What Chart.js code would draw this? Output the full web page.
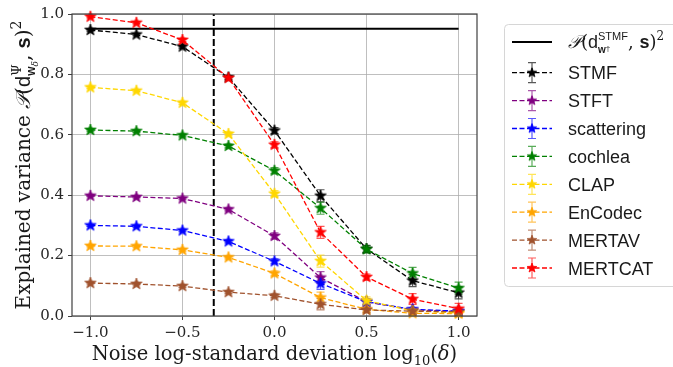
<!DOCTYPE html>
<html>
<head>
<meta charset="utf-8">
<script src="https://cdn.jsdelivr.net/npm/chart.js@4/dist/chart.umd.min.js"></script>
<style>
  body { margin: 0; background: #fff; }
</style>
</head>
<body>
<canvas id="c" width="673" height="367"></canvas>
<script>
// noise levels (log10 of delta)
const xVals = [-1, -0.75, -0.5, -0.25, 0, 0.25, 0.5, 0.75, 1];
const xTicks = [-1, -0.5, 0, 0.5, 1];
const yTicks = [0, 0.2, 0.4, 0.6, 0.8, 1.0];

// reference level and threshold
const refLevel = 0.951;
const refSpan = [-1, 1];
const threshold = -0.33;

const seriesNames = ["STMF", "STFT", "scattering", "cochlea", "CLAP", "EnCodec", "MERTAV", "MERTCAT"];

const stmf       = [0.947, 0.932, 0.892, 0.790, 0.614, 0.398, 0.222, 0.117, 0.077];
const stft       = [0.398, 0.394, 0.389, 0.353, 0.265, 0.127, 0.047, 0.020, 0.015];
const scattering = [0.300, 0.297, 0.283, 0.247, 0.181, 0.108, 0.047, 0.022, 0.016];
const cochlea    = [0.616, 0.612, 0.598, 0.563, 0.481, 0.357, 0.221, 0.141, 0.092];
const clap       = [0.757, 0.746, 0.706, 0.603, 0.405, 0.182, 0.051, 0.017, 0.010];
const encodec    = [0.232, 0.231, 0.219, 0.194, 0.141, 0.061, 0.022, 0.009, 0.008];
const mertav     = [0.109, 0.106, 0.099, 0.079, 0.067, 0.039, 0.020, 0.016, 0.014];
const mertcat    = [0.991, 0.971, 0.914, 0.788, 0.567, 0.277, 0.129, 0.056, 0.024];

// standard deviations
const stmfErr       = [0.004, 0.004, 0.005, 0.006, 0.010, 0.020, 0.012, 0.020, 0.020];
const stftErr       = [0.003, 0.003, 0.004, 0.005, 0.010, 0.020, 0.010, 0.005, 0.005];
const scatteringErr = [0.003, 0.003, 0.004, 0.005, 0.008, 0.020, 0.008, 0.005, 0.005];
const cochleaErr    = [0.004, 0.004, 0.005, 0.006, 0.010, 0.020, 0.012, 0.020, 0.020];
const clapErr       = [0.004, 0.004, 0.005, 0.006, 0.010, 0.020, 0.012, 0.006, 0.005];
const encodecErr    = [0.003, 0.003, 0.004, 0.005, 0.008, 0.018, 0.008, 0.005, 0.004];
const mertavErr     = [0.003, 0.003, 0.004, 0.005, 0.006, 0.019, 0.008, 0.005, 0.004];
const mertcatErr    = [0.004, 0.004, 0.005, 0.006, 0.010, 0.020, 0.010, 0.018, 0.018];

const seriesValues = [stmf, stft, scattering, cochlea, clap, encodec, mertav, mertcat];
const seriesErrors = [stmfErr, stftErr, scatteringErr, cochleaErr, clapErr, encodecErr, mertavErr, mertcatErr];
const seriesColors = ["#000000", "#800080", "#0000ff", "#008000", "#ffd700", "#ffa500", "#a0522d", "#ff0000"];

const SERIF = '"DejaVu Serif", serif';
const SANS = '"Liberation Sans", sans-serif';

function starImage(color, r) {
  const s = Math.ceil(r * 2 + 4);
  const c = document.createElement("canvas");
  c.width = c.height = s;
  const g = c.getContext("2d");
  g.translate(s / 2, s / 2);
  g.beginPath();
  for (let i = 0; i < 10; i++) {
    const a = -Math.PI / 2 + i * Math.PI / 5;
    const rad = i % 2 ? r * 0.42 : r;
    g.lineTo(Math.cos(a) * rad, Math.sin(a) * rad);
  }
  g.closePath();
  g.fillStyle = color;
  g.fill();
  g.lineWidth = 0.8;
  g.strokeStyle = color;
  g.stroke();
  return c;
}

// text runs with super/subscripts; keep = stack next run at same x
function runText(ctx, runs, x, y, draw) {
  let cx = x, pend = null;
  for (const r of runs) {
    ctx.font = r.f;
    if (draw) ctx.fillText(r.t, cx, y + (r.dy || 0));
    const w = ctx.measureText(r.t).width;
    if (r.keep) {
      pend = cx + w;
    } else {
      cx += w;
      if (r.end && pend !== null) { cx = Math.max(cx, pend); pend = null; }
    }
  }
  return cx - x;
}

const yTitle = [
  { t: "Explained variance ", f: "20px " + SERIF },
  { t: "\u{1D4AB}", f: "italic 20px " + SERIF },
  { t: "(", f: "20px " + SERIF },
  { t: "d", f: "20px " + SANS },
  { t: "\u03A8", f: "13px " + SERIF, dy: -9, keep: true },
  { t: "w", f: "bold 12px " + SANS, dy: 5 },
  { t: "\u03B4", f: "italic 9px " + SERIF, dy: 8, end: true },
  { t: ", ", f: "20px " + SERIF },
  { t: "s", f: "bold 20px " + SANS },
  { t: ")", f: "20px " + SERIF },
  { t: "2", f: "14px " + SERIF, dy: -9 }
];

const xTitle = [
  { t: "Noise log-standard deviation log", f: "19.5px " + SERIF },
  { t: "10", f: "13px " + SERIF, dy: 5 },
  { t: "(", f: "19.5px " + SERIF },
  { t: "\u03B4", f: "italic 19.5px " + SERIF },
  { t: ")", f: "19.5px " + SERIF }
];

const refLabel = [
  { t: "\u{1D4AB}", f: "italic 18px " + SERIF },
  { t: "(", f: "18px " + SERIF },
  { t: "d", f: "18px " + SANS },
  { t: "STMF", f: "11px " + SANS, dy: -8, keep: true },
  { t: "w", f: "bold 10px " + SANS, dy: 5 },
  { t: "\u2020", f: "8px " + SANS, dy: 3, end: true },
  { t: ", ", f: "18px " + SERIF },
  { t: "s", f: "bold 18px " + SANS },
  { t: ")", f: "18px " + SERIF },
  { t: "2", f: "12px " + SERIF, dy: -8 }
];

const errorBars = {
  id: "errorBars",
  beforeDatasetsDraw(chart) {
    const { ctx, scales: { x, y } } = chart;
    ctx.save();
    ctx.globalAlpha = 0.65;
    ctx.lineWidth = 1.2;
    seriesValues.forEach((vals, i) => {
      ctx.strokeStyle = seriesColors[i];
      vals.forEach((v, j) => {
        const px = x.getPixelForValue(xVals[j]);
        const y1 = y.getPixelForValue(v - seriesErrors[i][j]);
        const y2 = y.getPixelForValue(v + seriesErrors[i][j]);
        ctx.beginPath();
        ctx.moveTo(px, y1); ctx.lineTo(px, y2);
        ctx.moveTo(px - 4, y1); ctx.lineTo(px + 4, y1);
        ctx.moveTo(px - 4, y2); ctx.lineTo(px + 4, y2);
        ctx.stroke();
      });
    });
    ctx.restore();
  }
};

const decorations = {
  id: "decorations",
  afterDatasetsDraw(chart) {
    const { ctx, chartArea: a } = chart;
    ctx.save();
    ctx.strokeStyle = "#404040";
    ctx.lineWidth = 1.2;
    ctx.strokeRect(a.left, a.top, a.right - a.left, a.bottom - a.top);
    ctx.restore();
  },
  afterDraw(chart) {
    const { ctx, chartArea: a } = chart;
    ctx.save();
    ctx.fillStyle = "#1a1a1a";
    ctx.textBaseline = "alphabetic";

    // axis titles
    const xw = runText(ctx, xTitle, 0, 0, false);
    runText(ctx, xTitle, (a.left + a.right) / 2 - xw / 2, 360, true);

    ctx.save();
    ctx.translate(30, (a.top + a.bottom) / 2);
    ctx.rotate(-Math.PI / 2);
    const yw = runText(ctx, yTitle, 0, 0, false);
    runText(ctx, yTitle, -yw / 2, 0, true);
    ctx.restore();

    // legend box
    ctx.beginPath();
    ctx.roundRect(504.5, 24.5, 190, 262, 4);
    ctx.fillStyle = "rgba(255,255,255,0.8)";
    ctx.fill();
    ctx.strokeStyle = "#d6d6d6";
    ctx.lineWidth = 1;
    ctx.stroke();

    const lx0 = 512, lx1 = 552, lmid = 532, tx = 568;
    // reference line entry
    const ry = 42;
    ctx.strokeStyle = "#000";
    ctx.lineWidth = 2;
    ctx.beginPath(); ctx.moveTo(lx0, ry); ctx.lineTo(lx1, ry); ctx.stroke();
    ctx.fillStyle = "#1a1a1a";
    runText(ctx, refLabel, tx, ry + 6, true);

    seriesNames.forEach((name, i) => {
      const cy = 72.7 + i * 27.9;
      const col = seriesColors[i];
      ctx.strokeStyle = col;
      ctx.lineWidth = 1.3;
      ctx.setLineDash([5, 2.5]);
      ctx.beginPath(); ctx.moveTo(lx0, cy); ctx.lineTo(lx1, cy); ctx.stroke();
      ctx.setLineDash([]);
      ctx.globalAlpha = 0.65;
      ctx.lineWidth = 1.2;
      ctx.beginPath();
      ctx.moveTo(lmid, cy - 10); ctx.lineTo(lmid, cy + 10);
      ctx.moveTo(lmid - 4, cy - 10); ctx.lineTo(lmid + 4, cy - 10);
      ctx.moveTo(lmid - 4, cy + 10); ctx.lineTo(lmid + 4, cy + 10);
      ctx.stroke();
      ctx.globalAlpha = 1;
      const img = starImage(col, 5);
      ctx.drawImage(img, lmid - img.width / 2, cy - img.height / 2);
      ctx.fillStyle = "#1a1a1a";
      ctx.font = "18px " + SANS;
      ctx.fillText(name, tx, cy + 6.5);
    });
    ctx.restore();
  }
};

const datasets = [];
seriesNames.forEach((name, i) => {
  datasets.push({
    label: name,
    data: xVals.map((x, j) => ({ x: x, y: seriesValues[i][j] })),
    borderColor: seriesColors[i],
    backgroundColor: seriesColors[i],
    borderWidth: 1.3,
    borderDash: [5, 2.5],
    pointStyle: starImage(seriesColors[i], 6),
    pointRadius: 6,
    tension: 0,
    clip: 10,
    order: 20 - i
  });
});
datasets.push({
  label: "reference",
  data: refSpan.map(x => ({ x: x, y: refLevel })),
  borderColor: "#000",
  borderWidth: 2,
  pointRadius: 0,
  order: 30
});
datasets.push({
  label: "threshold",
  data: [{ x: threshold, y: 0 }, { x: threshold, y: 1 }],
  borderColor: "#000",
  borderWidth: 2,
  borderDash: [7, 3],
  pointRadius: 0,
  order: 31
});

const fmt = v => (v < 0 ? "\u2212" : "") + Math.abs(v).toFixed(1);
const gridColor = "rgba(170,170,170,0.75)";

new Chart(document.getElementById("c"), {
  type: "line",
  data: { datasets: datasets },
  options: {
    responsive: false,
    animation: false,
    events: [],
    layout: { padding: { left: 0, right: 196, top: 14, bottom: 0 } },
    plugins: { legend: { display: false }, tooltip: { enabled: false } },
    scales: {
      x: {
        type: "linear",
        min: -1.1,
        max: 1.1,
        afterBuildTicks: s => { s.ticks = xTicks.map(v => ({ value: v })); },
        afterFit: s => { s.height = 51; },
        ticks: { font: { family: "DejaVu Serif", size: 15 }, color: "#262626", padding: 4, callback: fmt, maxRotation: 0 },
        grid: { color: gridColor, lineWidth: 1, tickLength: 4, tickColor: "#404040" },
        border: { display: false }
      },
      y: {
        min: 0,
        max: 1,
        afterBuildTicks: s => { s.ticks = yTicks.map(v => ({ value: v })); },
        afterFit: s => { s.width = 72; },
        ticks: { font: { family: "DejaVu Serif", size: 15 }, color: "#262626", padding: 4, callback: fmt },
        grid: { color: gridColor, lineWidth: 1, tickLength: 4, tickColor: "#404040" },
        border: { display: false }
      }
    }
  },
  plugins: [errorBars, decorations]
});
</script>
</body>
</html>
